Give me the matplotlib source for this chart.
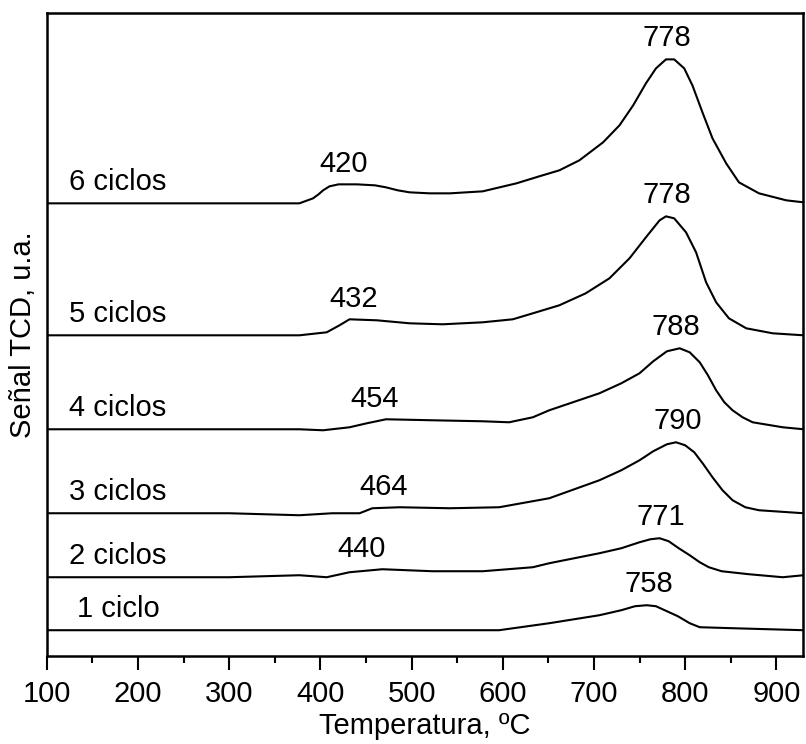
#!/usr/bin/env python
import matplotlib
matplotlib.use("Agg")
import matplotlib.pyplot as plt
from matplotlib.ticker import MultipleLocator

plt.rcParams['font.family'] = ['Liberation Sans', 'DejaVu Sans']

# TPR profiles (signal above each baseline, a.u.)
cycle_names = ["1 ciclo", "2 ciclos", "3 ciclos", "4 ciclos", "5 ciclos", "6 ciclos"]
low_peaks = [None, 440, 464, 454, 432, 420]
high_peaks = [758, 771, 790, 788, 778, 778]

t1 = [100, 200, 300, 400, 500, 596, 651, 706, 730, 745, 758, 768, 780, 792, 805, 816, 852, 930]
s1 = [0, 0, 0, 0, 0, 0, 7, 15, 20, 24, 25, 24, 19, 14, 7, 3, 2, 0]

t2 = [100, 200, 300, 377, 407, 432, 468, 523, 578, 633, 651, 706, 730, 750, 762, 772, 782, 793, 805,
      816, 826, 840, 870, 907, 930]
s2 = [0, 0, 0, 2, 0, 5, 8, 6, 6, 10, 14, 24, 29, 35, 38, 39, 36, 29, 22, 15, 10, 6, 3, 0, 2]

t3 = [100, 200, 300, 377, 413, 443, 457, 487, 542, 596, 651, 706, 730, 750, 765, 780, 790, 800, 810,
      820, 830, 841, 852, 866, 881, 930]
s3 = [0, 0, 0, -2, 0, 0, 5, 6, 5, 6, 15, 33, 43, 53, 62, 69, 71, 68, 61, 49, 36, 23, 13, 6, 3, 0]

t4 = [100, 200, 300, 377, 403, 432, 451, 472, 523, 578, 607, 633, 651, 706, 730, 750, 765, 780, 794,
      805, 816, 825, 834, 843, 852, 863, 874, 907, 930]
s4 = [0, 0, 0, 0, -1, 2, 6, 10, 9, 8, 7, 12, 19, 36, 46, 56, 68, 78, 81, 77, 67, 54, 39, 27, 19, 12, 7, 2, 0]

t5 = [100, 200, 300, 377, 407, 421, 432, 462, 498, 534, 578, 611, 633, 662, 691, 717, 739, 757, 772,
      779, 788, 801, 812, 823, 834, 848, 867, 896, 930]
s5 = [0, 0, 0, 0, 3, 10, 16, 15, 12, 11, 13, 16, 22, 30, 42, 57, 77, 98, 115, 119, 117, 103, 83, 53,
      33, 17, 7, 2, 0]

t6 = [100, 200, 300, 377, 392, 398, 403, 410, 420, 440, 460, 472, 485, 498, 520, 542, 578, 615, 640,
      662, 684, 710, 728, 743, 757, 768, 779, 788, 799, 808, 819, 830, 845, 859, 881, 911, 930]
s6 = [0, 0, 0, 0, 5, 9, 13, 17, 19, 19, 18, 16, 13, 11, 10, 10, 12, 20, 27, 33, 43, 61, 78, 98, 120,
      135, 144, 144, 135, 118, 91, 65, 40, 21, 10, 3, 1]

temps = [t1, t2, t3, t4, t5, t6]
signals = [s1, s2, s3, s4, s5, s6]


def main():
  fig = plt.figure(figsize=(8.06, 7.44), dpi=100)
  ax = fig.add_axes([0.058, 0.118, 0.938, 0.864])
  offsets = [26, 79, 143, 227, 321, 453]
  fs = 21
  for i in range(6):
    t, s, off = temps[i], signals[i], offsets[i]
    ax.plot(t, [v + off for v in s], color="black", linewidth=1.5)
    ax.text(178, off + 21, cycle_names[i], fontsize=fs, ha="center", va="center")
    # peak labels sit ~20 units above the local maximum
    hp = high_peaks[i]
    ax.text(hp + 2, off + max(s) + 21, str(hp), fontsize=fs, ha="center", va="center")
    lp = low_peaks[i]
    if lp is not None:
      bump = max(v for tt, v in zip(t, s) if 380 <= tt <= 520)
      ax.text(lp + 5, off + bump + 20, str(lp), fontsize=fs, ha="center", va="center")

  ax.set_xlim(100, 929)
  ax.set_ylim(0, 643)
  ax.set_yticks([])
  ax.xaxis.set_major_locator(MultipleLocator(100))
  ax.xaxis.set_minor_locator(MultipleLocator(50))
  ax.tick_params(axis="x", which="major", direction="out", length=10, width=1.5, labelsize=fs, pad=7)
  ax.tick_params(axis="x", which="minor", direction="out", length=5, width=1.5)
  for sp in ax.spines.values():
    sp.set_linewidth(1.8)
  ax.set_xlabel("Temperatura, ºC", fontsize=fs, labelpad=3)
  ax.set_ylabel("Señal TCD, u.a.", fontsize=fs, labelpad=7)
  fig.savefig("out.png", dpi=100)


if __name__ == "__main__":
  main()
